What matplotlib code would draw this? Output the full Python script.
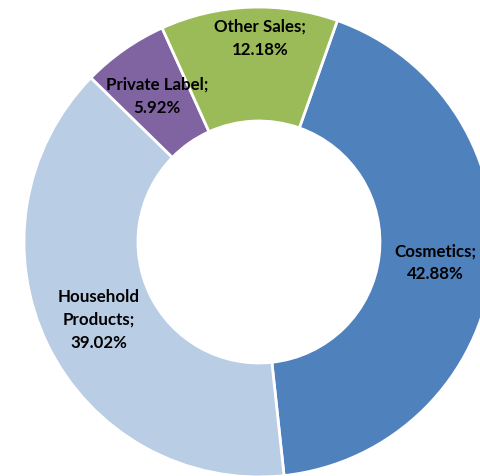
import numpy as np
import matplotlib
matplotlib.use("Agg")
import matplotlib.pyplot as plt

# Sales mix by segment (share of total, %)
categories = ["Cosmetics", "Household\nProducts", "Private Label", "Other Sales"]
shares = [42.88, 39.02, 5.92, 12.18]
colors = ["#4F81BD", "#B9CDE5", "#8064A2", "#9BBB59"]

# label radius (fraction of outer radius) per slice, Other Sales sits further out
label_radius = [0.757, 0.757, 0.757, 0.868]
label_shift = [0, 0, 0, 10]  # horizontal nudge in pixels

fig = plt.figure(figsize=(4.81, 4.76), dpi=100)
ax = fig.add_axes([0, 0, 1, 1])

wedges, _ = ax.pie(
    shares,
    colors=colors,
    startangle=70.5,
    counterclock=False,
    radius=1.0,
    wedgeprops=dict(width=0.485, edgecolor="white", linewidth=2),
)

for w, name, pct, r, dx in zip(wedges, categories, shares, label_radius, label_shift):
    mid = np.deg2rad((w.theta1 + w.theta2) / 2)
    x, y = r * np.cos(mid), r * np.sin(mid)
    ax.annotate(
        f"{name};\n{pct:.2f}%",
        xy=(x, y),
        xytext=(dx * 0.72, 0),
        textcoords="offset points",
        ha="center",
        va="center",
        fontsize=12.2,
        fontweight="bold",
        family=["Lato", "DejaVu Sans"],
        linespacing=1.55,
        color="black",
    )

# ring is cropped on the right and bottom, like the source image
ax.set_xlim(-1.102, 0.945)
ax.set_ylim(-0.996, 1.030)
ax.set_aspect("auto")
ax.axis("off")

fig.savefig("out.png", dpi=100, facecolor="white")
